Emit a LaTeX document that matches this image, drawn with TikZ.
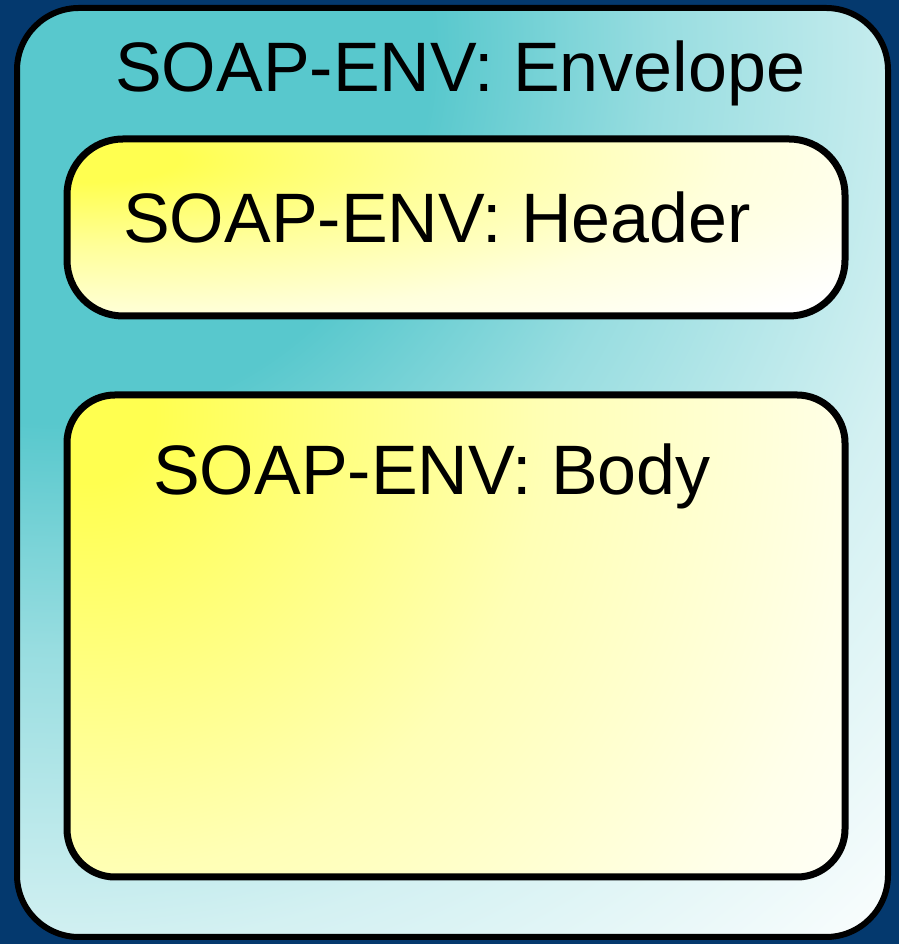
\documentclass[tikz,border=0pt]{standalone}
\usepackage{fontspec}
\usetikzlibrary{calc}
\setmainfont{Liberation Sans}
\definecolor{navy}{RGB}{4,57,110}
\definecolor{teal}{RGB}{88,200,205}
\definecolor{yel}{RGB}{255,255,80}
% radial shadings centred at origin
\pgfdeclareradialshading{envrad}{\pgfpoint{0bp}{0bp}}{%
  color(0bp)=(teal); color(7.5bp)=(teal); color(12bp)=(teal!62!white);
  color(18bp)=(teal!26!white); color(25bp)=(white); color(50bp)=(white)}
\pgfdeclareradialshading{bodyrad}{\pgfpoint{0bp}{0bp}}{%
  color(0bp)=(yel); color(1.7bp)=(yel); color(11.5bp)=(yel!42!white);
  color(19.5bp)=(yel!12!white); color(24bp)=(white); color(50bp)=(white)}
\pgfdeclareradialshading{hdrrad}{\pgfpoint{0bp}{0bp}}{%
  color(0bp)=(yel); color(2.3bp)=(yel); color(8.7bp)=(yel!58!white);
  color(16bp)=(yel!20!white); color(23bp)=(white); color(50bp)=(white)}
\tikzset{
  envbox/.style={draw=black, line width=6pt, rounded corners=62pt,
    path picture={\shade[shading=envrad] ($(path picture bounding box.north west)+(40,-40)$) ++(-1250,-1250) rectangle ++(2500,2500);}},
  hdrbox/.style={draw=black, line width=7pt, rounded corners=56pt,
    path picture={\shade[shading=hdrrad] ($(path picture bounding box.north west)+(20,-20)$) ++(-1000,-250) rectangle ++(2000,500);}},
  bodybox/.style={draw=black, line width=7pt, rounded corners=48pt,
    path picture={\shade[shading=bodyrad] ($(path picture bounding box.north west)+(20,-20)$) ++(-1000,-1000) rectangle ++(2000,2000);}},
  label/.style={inner sep=0pt, anchor=base west, font=\fontsize{70}{84}\selectfont}
}
\begin{document}
\begin{tikzpicture}[x=1pt,y=1pt]
\useasboundingbox (0,0) rectangle (899,944);
\fill[navy] (0,0) rectangle (899,944);
\node[envbox, minimum width=871pt, minimum height=929pt] (env) at (452.5,471.5) {};
\node[hdrbox, minimum width=778pt, minimum height=177pt] (hdr) at (456,716.5) {};
\node[bodybox, minimum width=778pt, minimum height=482pt] (body) at (456,308) {};
\node[label] (envt) at (115,852) {SOAP-ENV: Envelope};
\node[label] (hdrt) at (123,701) {SOAP-ENV: Header};
\node[label] (bodyt) at (153,449) {SOAP-ENV: Body};
\end{tikzpicture}
\end{document}
